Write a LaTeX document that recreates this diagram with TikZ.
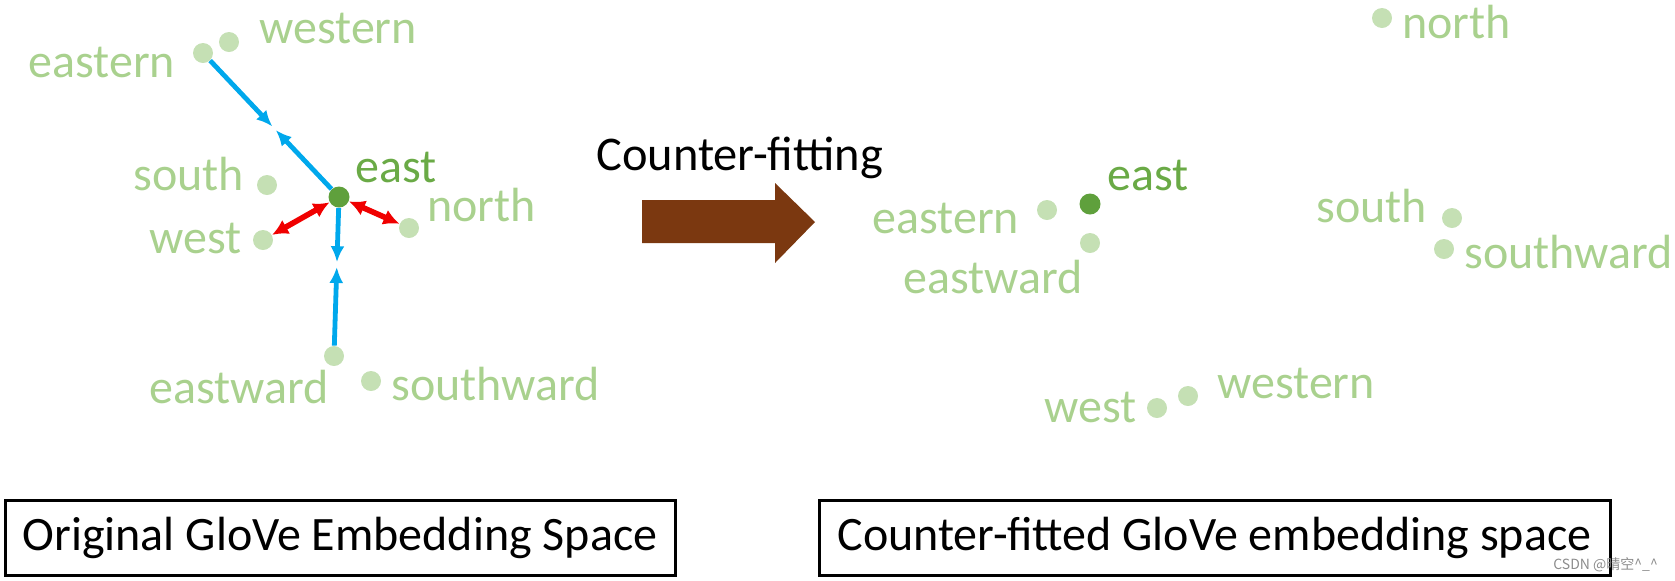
\documentclass[tikz,border=0pt]{standalone}
\usepackage{fontspec}
\setmainfont{Carlito}
\newfontfamily\cjkfont{Noto Sans CJK SC}
\usetikzlibrary{arrows.meta,calc}
\definecolor{lgdot}{HTML}{C5E0B4}
\definecolor{lgtext}{HTML}{A9D18E}
\definecolor{dgdot}{HTML}{5FA03C}
\definecolor{dgtext}{HTML}{6AAA46}
\definecolor{bluearr}{HTML}{00A8EC}
\definecolor{redarr}{HTML}{F00000}
\definecolor{brownarr}{HTML}{7B3810}
\begin{document}
\begin{tikzpicture}[x=0.5pt,y=-0.5pt,
 dot/.style={circle,fill=lgdot,minimum size=10pt,inner sep=0pt},
 keydot/.style={circle,fill=dgdot,minimum size=10.5pt,inner sep=0pt},
 word/.style={anchor=base west,inner sep=0pt,text=lgtext,font=\fontsize{24}{28}\selectfont},
 keyword/.style={word,text=dgtext},
 pull/.style={draw=bluearr,line width=2.4pt,-{Latex[length=8pt,width=7pt]}},
 push/.style={draw=redarr,line width=2.8pt,{Latex[length=8pt,width=8pt]}-{Latex[length=8pt,width=8pt]}},
 titlebox/.style={draw=black,line width=1.5pt,minimum height=37.5pt,inner sep=0pt,font=\fontsize{24}{28}\selectfont}
]
\useasboundingbox (0,0) rectangle (1675,580);

% ---- left: original space ----
\node[dot] (Leastern) at (203,53) {};
\node[dot] (Lwestern) at (229,42) {};
\node[keydot] (Least) at (339,197) {};
\node[dot] (Lsouth) at (267,185) {};
\node[dot] (Lwest) at (263,240) {};
\node[dot] (Lnorth) at (409,228) {};
\node[dot] (Leastward) at (334,356) {};
\node[dot] (Lsouthward) at (371,381) {};

\node[word] (tLeastern) at (28,77) {eastern};
\node[word] (tLwestern) at (259,43) {western};
\node[keyword] (tLeast) at (355,182) {east};
\node[word] (tLsouth) at (133,190) {south};
\node[word] (tLwest) at (149,253) {west};
\node[word] (tLnorth) at (427,221) {north};
\node[word] (tLeastward) at (149,403) {eastward};
\node[word] (tLsouthward) at (391,400) {southward};

\coordinate (m1) at ($(Leastern)!0.51!(Least)$);
\coordinate (m2) at ($(Leastern)!0.535!(Least)$);
\coordinate (m3) at ($(Least)!0.41!(Leastward)$);
\coordinate (m4) at ($(Least)!0.44!(Leastward)$);
\draw[pull] (Leastern) -- (m1);
\draw[pull] (Least) -- (m2);
\draw[pull] (Least) -- (m3);
\draw[pull] (Leastward) -- (m4);
\draw[push] (Least) -- (Lwest);
\draw[push] (Least) -- (Lnorth);

% ---- middle arrow ----
\node[anchor=base west,inner sep=0pt,font=\fontsize{24.2}{28}\selectfont] (cf) at (596,170) {Counter-fitting};
\fill[brownarr] (642,200) -- (775,200) -- (775,183) -- (815,222) -- (775,263) -- (775,243) -- (642,243) -- cycle;

% ---- right: counter-fitted space ----
\node[dot] (Rnorth) at (1382,18) {};
\node[keydot] (Reast) at (1090,204) {};
\node[dot] (Reastern) at (1047,210) {};
\node[dot] (Reastward) at (1090,243) {};
\node[dot] (Rsouth) at (1452,218) {};
\node[dot] (Rsouthward) at (1444,249) {};
\node[dot] (Rwest) at (1157,408) {};
\node[dot] (Rwestern) at (1188,396) {};

\node[word] (tRnorth) at (1402,38) {north};
\node[keyword] (tReast) at (1107,190) {east};
\node[word] (tReastern) at (872,233) {eastern};
\node[word] (tReastward) at (903,293) {eastward};
\node[word] (tRsouth) at (1316,222) {south};
\node[word] (tRsouthward) at (1464,268) {southward};
\node[word] (tRwest) at (1044,422) {west};
\node[word] (tRwestern) at (1217,398) {western};

% ---- captions ----
\node[titlebox,minimum width=335pt] (capL) at (340,537.5) {Original GloVe Embedding Space};
\node[titlebox,minimum width=395.5pt] (capR) at (1214.5,537.5) {Counter-fitted GloVe embedding space};

\node[anchor=west,inner sep=0pt,text=black!45,font=\cjkfont\fontsize{7}{8}\selectfont] (wm) at (1553,565) {CSDN @晴空\textasciicircum\_\textasciicircum};
\end{tikzpicture}
\end{document}
